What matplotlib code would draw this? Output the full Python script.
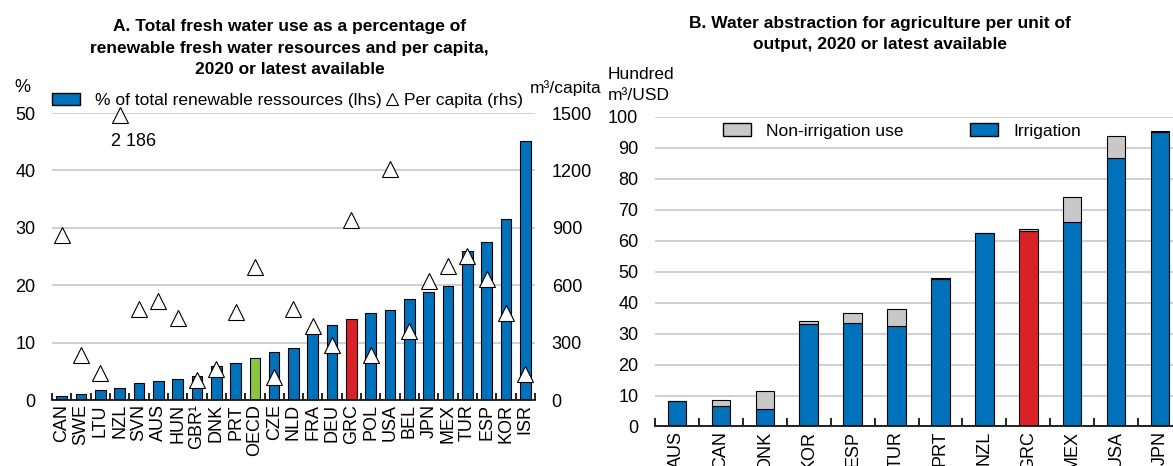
import numpy as np
import matplotlib
matplotlib.use('Agg')
import matplotlib.pyplot as plt
from matplotlib.patches import Patch
from matplotlib.lines import Line2D

plt.rcParams['font.family'] = ['Liberation Sans', 'DejaVu Sans']

# Panel A data
countries_a = ['CAN', 'SWE', 'LTU', 'NZL', 'SVN', 'AUS', 'HUN', 'GBR¹', 'DNK', 'PRT', 'OECD', 'CZE', 'NLD',
               'FRA', 'DEU', 'GRC', 'POL', 'USA', 'BEL', 'JPN', 'MEX', 'TUR', 'ESP', 'KOR', 'ISR']
pct_renewable = [0.7, 1.1, 1.75, 2.15, 3.0, 3.25, 3.6, 4.25, 5.9, 6.45, 7.4, 8.4, 9.1,
                 12.2, 13.0, 14.1, 15.2, 15.7, 17.6, 18.9, 19.9, 26.0, 27.6, 31.5, 45.2]
per_capita = [860, 235, 141, 2186, 474, 517, 427, 105, 164, 462, 693, 122, 478,
              387, 287, 940, 234, 1205, 361, 622, 700, 753, 631, 457, 134]

# Panel B data
countries_b = ['AUS', 'CAN', 'DNK', 'KOR', 'ESP', 'TUR', 'PRT', 'NZL', 'GRC', 'MEX', 'USA', 'JPN']
irrigation = [8.2, 6.7, 5.7, 33.0, 33.3, 32.4, 47.5, 62.5, 63.2, 65.9, 86.7, 95.0]
non_irrigation = [0.0, 1.95, 5.65, 0.9, 3.3, 5.6, 0.4, 0.0, 0.7, 8.3, 7.1, 0.3]

BLUE = '#0072BC'
RED = '#DA2128'
GREEN = '#8CC63F'
GREY = '#C8C8C8'
GRID = '#C8C8C8'
FS = 12.5

fig = plt.figure(figsize=(11.73, 4.66), dpi=100)

# ---------------- Panel A ----------------
axA = fig.add_axes([0.0443, 0.1416, 0.4118, 0.6159])
xa = np.arange(len(countries_a))
cols_a = [GREEN if c == 'OECD' else RED if c == 'GRC' else BLUE for c in countries_a]
axA.bar(xa, pct_renewable, width=0.55, color=cols_a, edgecolor='black', linewidth=0.8, zorder=2)
axA.set_ylim(0, 50)
axA.set_xlim(-0.5, len(countries_a) - 0.5)
axA.set_yticks(np.arange(0, 51, 10))
axA.yaxis.grid(True, color=GRID, linewidth=1.2, zorder=0)
axA.set_axisbelow(True)
for s in ['top', 'left', 'right']:
    axA.spines[s].set_visible(False)
axA.spines['bottom'].set_linewidth(1.2)
axA.set_xticks(xa)
axA.set_xticklabels(countries_a, rotation=90, fontsize=13)
axA.tick_params(axis='x', length=0, pad=3)
axA.set_xticks(np.arange(-0.5, len(countries_a)), minor=True)
axA.tick_params(axis='x', which='minor', direction='in', length=5, width=1.2)
axA.tick_params(axis='y', length=0, labelsize=13, pad=12)

axA2 = axA.twinx()
axA2.set_ylim(0, 1500)
axA2.set_yticks(np.arange(0, 1501, 300))
cap = 1490
axA2.plot(xa, np.minimum(per_capita, cap), linestyle='none', marker='^', markersize=11,
          markerfacecolor='white', markeredgecolor='black', markeredgewidth=0.8, zorder=3, clip_on=False)
for s in ['top', 'left', 'right', 'bottom']:
    axA2.spines[s].set_visible(False)
axA2.tick_params(axis='y', length=0, labelsize=13, pad=12)
i_nzl = countries_a.index('NZL')
axA2.annotate('2 186', xy=(i_nzl, cap), xytext=(10, -19), textcoords='offset points',
              ha='center', va='center', fontsize=13)

leg1 = axA2.legend(handles=[Patch(facecolor=BLUE, edgecolor='black', label='% of total renewable ressources (lhs)')],
                   loc='center left', bbox_to_anchor=(0.0, 1.045), frameon=False, fontsize=FS,
                   handlelength=1.6, handletextpad=0.9, borderaxespad=0, borderpad=0)
axA2.add_artist(leg1)
axA2.legend(handles=[Line2D([], [], linestyle='none', marker='^', markersize=8, markerfacecolor='white',
                            markeredgecolor='black', markeredgewidth=0.8, label='Per capita (rhs)')],
            loc='center left', bbox_to_anchor=(0.69, 1.045), frameon=False, fontsize=FS,
            handlelength=0.8, handletextpad=0.3, borderaxespad=0, borderpad=0)

fig.text(22 / 1173, 1 - 88 / 466, '%', fontsize=13, ha='center', va='center')
fig.text(566 / 1173, 1 - 88 / 466, 'm³/capita', fontsize=FS, ha='center', va='center')
fig.text(0.247, 1 - 48 / 466,
         'A. Total fresh water use as a percentage of\nrenewable fresh water resources and per capita,\n2020 or latest available',
         ha='center', va='center', fontsize=12.5, fontweight='bold', linespacing=1.5)

# ---------------- Panel B ----------------
axB = fig.add_axes([0.5584, 0.0848, 0.4493, 0.6648])
xb = np.arange(len(countries_b))
cols_b = [RED if c == 'GRC' else BLUE for c in countries_b]
axB.bar(xb, irrigation, width=0.42, color=cols_b, edgecolor='black', linewidth=0.8, zorder=2)
axB.bar(xb, non_irrigation, bottom=irrigation, width=0.42, color=GREY, edgecolor='black',
        linewidth=0.8, zorder=2)
axB.set_ylim(0, 100)
axB.set_xlim(-0.5, len(countries_b) - 0.5)
axB.set_yticks(np.arange(0, 101, 10))
axB.yaxis.grid(True, color=GRID, linewidth=1.2, zorder=0)
axB.set_axisbelow(True)
for s in ['top', 'left', 'right']:
    axB.spines[s].set_visible(False)
axB.spines['bottom'].set_linewidth(1.2)
axB.set_xticks(xb)
axB.set_xticklabels(countries_b, rotation=90, fontsize=13)
axB.tick_params(axis='x', length=0, pad=3)
axB.set_xticks(np.arange(-0.5, len(countries_b)), minor=True)
axB.tick_params(axis='x', which='minor', direction='in', length=6, width=1.2)
axB.tick_params(axis='y', length=0, labelsize=13, pad=12)

legB = [Patch(facecolor=GREY, edgecolor='black', label='Non-irrigation use'),
        Patch(facecolor=BLUE, edgecolor='black', label='Irrigation')]
axB.legend(handles=legB, loc='center left', bbox_to_anchor=(0.129, 0.954), ncol=2, frameon=False,
           fontsize=FS, handlelength=1.6, handletextpad=0.9, columnspacing=3.8, borderaxespad=0, borderpad=0)

fig.text(608 / 1173, 1 - 85 / 466, 'Hundred\nm³/USD', fontsize=FS, ha='left', va='center', linespacing=1.45)
fig.text(0.75, 1 - 34 / 466,
         'B. Water abstraction for agriculture per unit of\noutput, 2020 or latest available',
         ha='center', va='center', fontsize=12.5, fontweight='bold', linespacing=1.5)

fig.savefig('out.png', dpi=100)
